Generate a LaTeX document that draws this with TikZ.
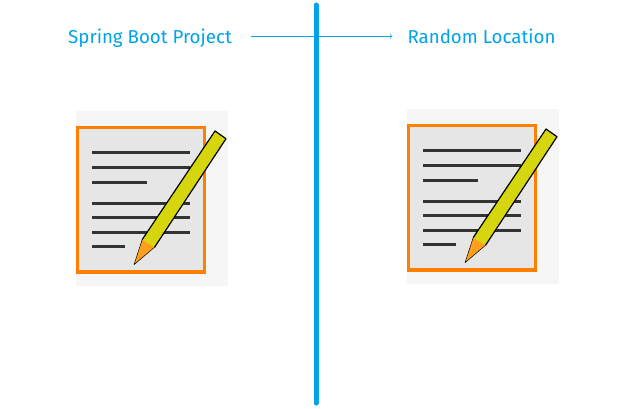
\documentclass[tikz,border=0pt]{standalone}
\usepackage{fontspec}
\setmainfont{Fira Sans}
\usepackage{xcolor}
\definecolor{skyline}{HTML}{00A2E8}
\definecolor{iconback}{HTML}{F6F6F6}
\definecolor{pagefill}{HTML}{E6E6E6}
\definecolor{pageedge}{HTML}{FF8000}
\definecolor{textline}{HTML}{333333}
\definecolor{pencilbody}{HTML}{D6D60F}
\definecolor{penciltip}{HTML}{FF9F1C}
\tikzset{
	caption/.style={text=skyline,font=\fontsize{18.7pt}{22pt}\selectfont,inner sep=0pt,text height=15pt,text depth=0pt},
	textrule/.style={textline,line width=3pt}
}
\begin{document}
\begin{tikzpicture}[x=1pt,y=-1pt]
		\useasboundingbox (0,0) rectangle (642,409);
		\node [caption] (spring) at (150,36.4) {Spring Boot Project};
		\node [caption] (random) at (481.5,36.4) {Random Location};
		\draw [skyline,->,line width=0.7pt,shorten <=19pt,shorten >=15pt] (spring) -- (random);
		\draw [skyline,line width=5pt,line cap=round] (316,5) -- (316,403);
		\foreach \dx/\dy in {0/0,331/-2} {
			\begin{scope}[shift={(\dx,\dy)}]
				\fill [iconback] (76,111) rectangle (228,286);
				\draw [pageedge,fill=pagefill,line width=3.5pt] (77.7,127.7) rectangle (204.5,272);
				\foreach \ry/\rx in {152.7/190,167.3/190,182.2/146.7,203.3/190,217.7/190,232.3/190,246.7/125}
					\draw [textrule] (92.3,\ry) -- (\rx,\ry);
				\fill [pencilbody] (215,131) -- (226,138.7) -- (154.6,247.2) -- (142.2,239.6) -- cycle;
				\fill [penciltip] (142.2,239.6) -- (154.6,247.2) -- (134,264.7) -- cycle;
				\draw [black,line width=1.2pt,line join=round]
					(142.2,239.6) -- (215,131) -- (226,138.7) -- (154.6,247.2);
				\draw [black,line width=0.5pt,line join=round]
					(154.6,247.2) -- (134,264.7) -- (142.2,239.6);
			\end{scope}
		}
	\end{tikzpicture}
\end{document}
